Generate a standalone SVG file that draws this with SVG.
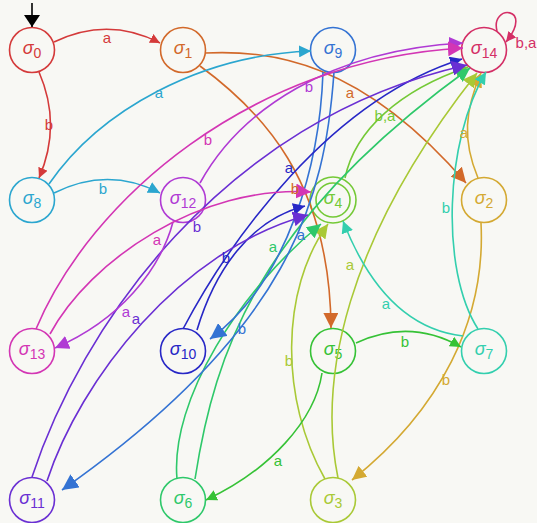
<svg xmlns="http://www.w3.org/2000/svg" width="537" height="523" viewBox="0 0 537 523">
<style>
.n{fill:none;stroke-width:1.6}
.e{fill:none;stroke-width:1.6}
.nl{font-family:"Liberation Sans",Arial,sans-serif;text-anchor:middle}
.sg{font-size:18px;font-style:italic}
.sb{font-size:14px}
.l{font-family:"Liberation Sans",Arial,sans-serif;font-size:15px;text-anchor:middle}
</style>
<defs>
<marker id="mk" viewBox="0 0 12 16" refX="12" refY="8" markerWidth="12" markerHeight="16" markerUnits="userSpaceOnUse" orient="auto"><path d="M0,0 L12,8 L0,16 z" fill="#000"/></marker>
<marker id="m0" viewBox="0 0 10 10" refX="10" refY="5" markerWidth="10" markerHeight="10" markerUnits="userSpaceOnUse" orient="auto"><path d="M0,0 L10,5 L0,10 z" fill="#d43a3a"/></marker>
<marker id="m1" viewBox="0 0 10 10" refX="10" refY="5" markerWidth="15" markerHeight="15" markerUnits="userSpaceOnUse" orient="auto"><path d="M0,0 L10,5 L0,10 z" fill="#d2692a"/></marker>
<marker id="m2" viewBox="0 0 10 10" refX="10" refY="5" markerWidth="14" markerHeight="14" markerUnits="userSpaceOnUse" orient="auto"><path d="M0,0 L10,5 L0,10 z" fill="#d4a932"/></marker>
<marker id="m3" viewBox="0 0 10 10" refX="10" refY="5" markerWidth="14" markerHeight="14" markerUnits="userSpaceOnUse" orient="auto"><path d="M0,0 L10,5 L0,10 z" fill="#a9c936"/></marker>
<marker id="m4" viewBox="0 0 10 10" refX="10" refY="5" markerWidth="13" markerHeight="13" markerUnits="userSpaceOnUse" orient="auto"><path d="M0,0 L10,5 L0,10 z" fill="#74c936"/></marker>
<marker id="m5" viewBox="0 0 10 10" refX="10" refY="5" markerWidth="11" markerHeight="11" markerUnits="userSpaceOnUse" orient="auto"><path d="M0,0 L10,5 L0,10 z" fill="#36c236"/></marker>
<marker id="m6" viewBox="0 0 10 10" refX="10" refY="5" markerWidth="14" markerHeight="14" markerUnits="userSpaceOnUse" orient="auto"><path d="M0,0 L10,5 L0,10 z" fill="#2ec86a"/></marker>
<marker id="m7" viewBox="0 0 10 10" refX="10" refY="5" markerWidth="12" markerHeight="12" markerUnits="userSpaceOnUse" orient="auto"><path d="M0,0 L10,5 L0,10 z" fill="#33cfae"/></marker>
<marker id="m8" viewBox="0 0 10 10" refX="10" refY="5" markerWidth="12" markerHeight="12" markerUnits="userSpaceOnUse" orient="auto"><path d="M0,0 L10,5 L0,10 z" fill="#2ba6cf"/></marker>
<marker id="m9" viewBox="0 0 10 10" refX="10" refY="5" markerWidth="16" markerHeight="16" markerUnits="userSpaceOnUse" orient="auto"><path d="M0,0 L10,5 L0,10 z" fill="#3473d3"/></marker>
<marker id="m10" viewBox="0 0 10 10" refX="10" refY="5" markerWidth="12" markerHeight="12" markerUnits="userSpaceOnUse" orient="auto"><path d="M0,0 L10,5 L0,10 z" fill="#2727c6"/></marker>
<marker id="m11" viewBox="0 0 10 10" refX="10" refY="5" markerWidth="15" markerHeight="15" markerUnits="userSpaceOnUse" orient="auto"><path d="M0,0 L10,5 L0,10 z" fill="#6a2fd3"/></marker>
<marker id="m12" viewBox="0 0 10 10" refX="10" refY="5" markerWidth="14" markerHeight="14" markerUnits="userSpaceOnUse" orient="auto"><path d="M0,0 L10,5 L0,10 z" fill="#b03ad4"/></marker>
<marker id="m13" viewBox="0 0 10 10" refX="10" refY="5" markerWidth="15" markerHeight="15" markerUnits="userSpaceOnUse" orient="auto"><path d="M0,0 L10,5 L0,10 z" fill="#d336b4"/></marker>
<marker id="m14" viewBox="0 0 10 10" refX="10" refY="5" markerWidth="10" markerHeight="10" markerUnits="userSpaceOnUse" orient="auto"><path d="M0,0 L10,5 L0,10 z" fill="#d42f66"/></marker>
</defs>
<rect width="537" height="523" fill="#f8f8f4"/>

<g id="nodes">
<g id="s0"><circle class="n" cx="32" cy="50" r="22.5" stroke="#d43a3a"/><text class="nl" x="32" y="53.5" fill="#d43a3a"><tspan class="sg">σ</tspan><tspan class="sb" dy="4">0</tspan></text></g>
<g id="s1"><circle class="n" cx="183" cy="50" r="22.5" stroke="#d2692a"/><text class="nl" x="183" y="53.5" fill="#d2692a"><tspan class="sg">σ</tspan><tspan class="sb" dy="4">1</tspan></text></g>
<g id="s9"><circle class="n" cx="333" cy="50" r="22.5" stroke="#3473d3"/><text class="nl" x="333" y="53.5" fill="#3473d3"><tspan class="sg">σ</tspan><tspan class="sb" dy="4">9</tspan></text></g>
<g id="s14"><circle class="n" cx="484" cy="50" r="22.5" stroke="#d42f66"/><text class="nl" x="484" y="53.5" fill="#d42f66"><tspan class="sg">σ</tspan><tspan class="sb" dy="4">14</tspan></text></g>
<g id="s8"><circle class="n" cx="32" cy="200" r="22.5" stroke="#2ba6cf"/><text class="nl" x="32" y="203.5" fill="#2ba6cf"><tspan class="sg">σ</tspan><tspan class="sb" dy="4">8</tspan></text></g>
<g id="s12"><circle class="n" cx="183" cy="200" r="22.5" stroke="#b03ad4"/><text class="nl" x="183" y="203.5" fill="#b03ad4"><tspan class="sg">σ</tspan><tspan class="sb" dy="4">12</tspan></text></g>
<g id="s4"><circle class="n" cx="333" cy="200" r="23" stroke="#74c936"/><circle class="n" cx="333" cy="200" r="17" stroke="#74c936"/><text class="nl" x="333" y="203.5" fill="#74c936"><tspan class="sg">σ</tspan><tspan class="sb" dy="4">4</tspan></text></g>
<g id="s2"><circle class="n" cx="484" cy="200" r="22.5" stroke="#d4a932"/><text class="nl" x="484" y="203.5" fill="#d4a932"><tspan class="sg">σ</tspan><tspan class="sb" dy="4">2</tspan></text></g>
<g id="s13"><circle class="n" cx="32" cy="351" r="22.5" stroke="#d336b4"/><text class="nl" x="32" y="354.5" fill="#d336b4"><tspan class="sg">σ</tspan><tspan class="sb" dy="4">13</tspan></text></g>
<g id="s10"><circle class="n" cx="183" cy="351" r="22.5" stroke="#2727c6"/><text class="nl" x="183" y="354.5" fill="#2727c6"><tspan class="sg">σ</tspan><tspan class="sb" dy="4">10</tspan></text></g>
<g id="s5"><circle class="n" cx="333" cy="351" r="22.5" stroke="#36c236"/><text class="nl" x="333" y="354.5" fill="#36c236"><tspan class="sg">σ</tspan><tspan class="sb" dy="4">5</tspan></text></g>
<g id="s7"><circle class="n" cx="484" cy="351" r="22.5" stroke="#33cfae"/><text class="nl" x="484" y="354.5" fill="#33cfae"><tspan class="sg">σ</tspan><tspan class="sb" dy="4">7</tspan></text></g>
<g id="s11"><circle class="n" cx="32" cy="500" r="22.5" stroke="#6a2fd3"/><text class="nl" x="32" y="503.5" fill="#6a2fd3"><tspan class="sg">σ</tspan><tspan class="sb" dy="4">11</tspan></text></g>
<g id="s6"><circle class="n" cx="183" cy="500" r="22.5" stroke="#2ec86a"/><text class="nl" x="183" y="503.5" fill="#2ec86a"><tspan class="sg">σ</tspan><tspan class="sb" dy="4">6</tspan></text></g>
<g id="s3"><circle class="n" cx="333" cy="500" r="22.5" stroke="#a9c936"/><text class="nl" x="333" y="503.5" fill="#a9c936"><tspan class="sg">σ</tspan><tspan class="sb" dy="4">3</tspan></text></g>
</g>

<g id="connectors">
<path class="e" d="M32 3 L32 27" stroke="#000" stroke-width="2" marker-end="url(#mk)"/>
<path class="e" d="M54 42 Q108 16 160 43" stroke="#d43a3a" marker-end="url(#m0)"/>
<path class="e" d="M39 72 Q62 125 39 178" stroke="#d43a3a" marker-end="url(#m0)"/>
<path class="e" d="M205 53 C270 50 360 60 466 183" stroke="#d2692a" marker-end="url(#m1)"/>
<path class="e" d="M200 66 C260 110 330 180 331 328" stroke="#d2692a" marker-end="url(#m1)"/>
<path class="e" d="M478 178 C462 140 465 110 481 73" stroke="#d4a932" marker-end="url(#m2)"/>
<path class="e" d="M481 223 C486 320 440 410 352 480" stroke="#d4a932" marker-end="url(#m2)"/>
<path class="e" d="M338 478 C318 380 345 240 477 73" stroke="#a9c936" marker-end="url(#m3)"/>
<path class="e" d="M325 479 C280 400 280 290 328 224" stroke="#a9c936" marker-end="url(#m3)"/>
<path class="e" d="M345 178 C355 130 400 90 468 67" stroke="#74c936" marker-end="url(#m4)"/>
<path class="e" d="M322 373 C315 420 270 470 206 500" stroke="#36c236" marker-end="url(#m5)"/>
<path class="e" d="M356 343 Q410 318 461 347" stroke="#36c236" marker-end="url(#m5)"/>
<path class="e" d="M177 479 C170 400 240 290 321 224" stroke="#2ec86a" marker-end="url(#m6)"/>
<path class="e" d="M195 479 C215 350 260 220 470 68" stroke="#2ec86a" marker-end="url(#m6)"/>
<path class="e" d="M463 336 C410 330 370 290 343 221" stroke="#33cfae" marker-end="url(#m7)"/>
<path class="e" d="M478 329 C440 270 445 140 486 72" stroke="#33cfae" marker-end="url(#m7)"/>
<path class="e" d="M49 184 C100 110 200 55 311 51" stroke="#2ba6cf" marker-end="url(#m8)"/>
<path class="e" d="M54 193 Q108 166 160 193" stroke="#2ba6cf" marker-end="url(#m8)"/>
<path class="e" d="M323 72 C320 160 290 280 210 339" stroke="#3473d3" marker-end="url(#m9)"/>
<path class="e" d="M334 72 C325 200 290 330 62 490" stroke="#3473d3" marker-end="url(#m9)"/>
<path class="e" d="M197 330 C215 270 250 220 305 206" stroke="#2727c6" marker-end="url(#m10)"/>
<path class="e" d="M183 329 C230 240 330 100 462 59" stroke="#2727c6" marker-end="url(#m10)"/>
<path class="e" d="M47 481 C80 380 180 250 308 215" stroke="#6a2fd3" marker-end="url(#m11)"/>
<path class="e" d="M32 477 C80 330 220 120 467 65" stroke="#6a2fd3" marker-end="url(#m11)"/>
<path class="e" d="M200 183 C240 110 330 50 463 43" stroke="#b03ad4" marker-end="url(#m12)"/>
<path class="e" d="M173 222 C160 270 120 320 55 348" stroke="#b03ad4" marker-end="url(#m12)"/>
<path class="e" d="M36 329 C90 200 250 60 463 48" stroke="#d336b4" marker-end="url(#m13)"/>
<path class="e" d="M50 334 C90 260 200 185 311 192" stroke="#d336b4" marker-end="url(#m13)"/>
<path class="e" d="M497 31 C490 4 535 6 506 42" stroke="#d42f66" marker-end="url(#m14)"/>
</g>

<g id="labels">
<text class="l" x="107" y="43" fill="#d43a3a">a</text>
<text class="l" x="49" y="130" fill="#d43a3a">b</text>
<text class="l" x="159" y="98" fill="#2ba6cf">a</text>
<text class="l" x="103" y="194" fill="#2ba6cf">b</text>
<text class="l" x="350" y="98" fill="#d2692a">a</text>
<text class="l" x="295" y="194" fill="#d2692a">b</text>
<text class="l" x="309" y="92" fill="#b03ad4">b</text>
<text class="l" x="385" y="121" fill="#74c936">b,a</text>
<text class="l" x="526" y="48" fill="#d42f66">b,a</text>
<text class="l" x="464" y="138" fill="#d4a932">a</text>
<text class="l" x="208" y="145" fill="#d336b4">b</text>
<text class="l" x="289" y="173" fill="#2727c6">a</text>
<text class="l" x="446" y="213" fill="#33cfae">b</text>
<text class="l" x="197" y="232" fill="#6a2fd3">b</text>
<text class="l" x="157" y="245" fill="#d336b4">a</text>
<text class="l" x="301" y="240" fill="#3473d3">a</text>
<text class="l" x="273" y="252" fill="#2ec86a">a</text>
<text class="l" x="226" y="263" fill="#2727c6">b</text>
<text class="l" x="350" y="270" fill="#a9c936">a</text>
<text class="l" x="126" y="317" fill="#b03ad4">a</text>
<text class="l" x="136" y="324" fill="#6a2fd3">a</text>
<text class="l" x="242" y="334" fill="#3473d3">b</text>
<text class="l" x="386" y="309" fill="#33cfae">a</text>
<text class="l" x="405" y="347" fill="#36c236">b</text>
<text class="l" x="289" y="366" fill="#a9c936">b</text>
<text class="l" x="446" y="385" fill="#d4a932">b</text>
<text class="l" x="278" y="466" fill="#36c236">a</text>
</g>
</svg>
